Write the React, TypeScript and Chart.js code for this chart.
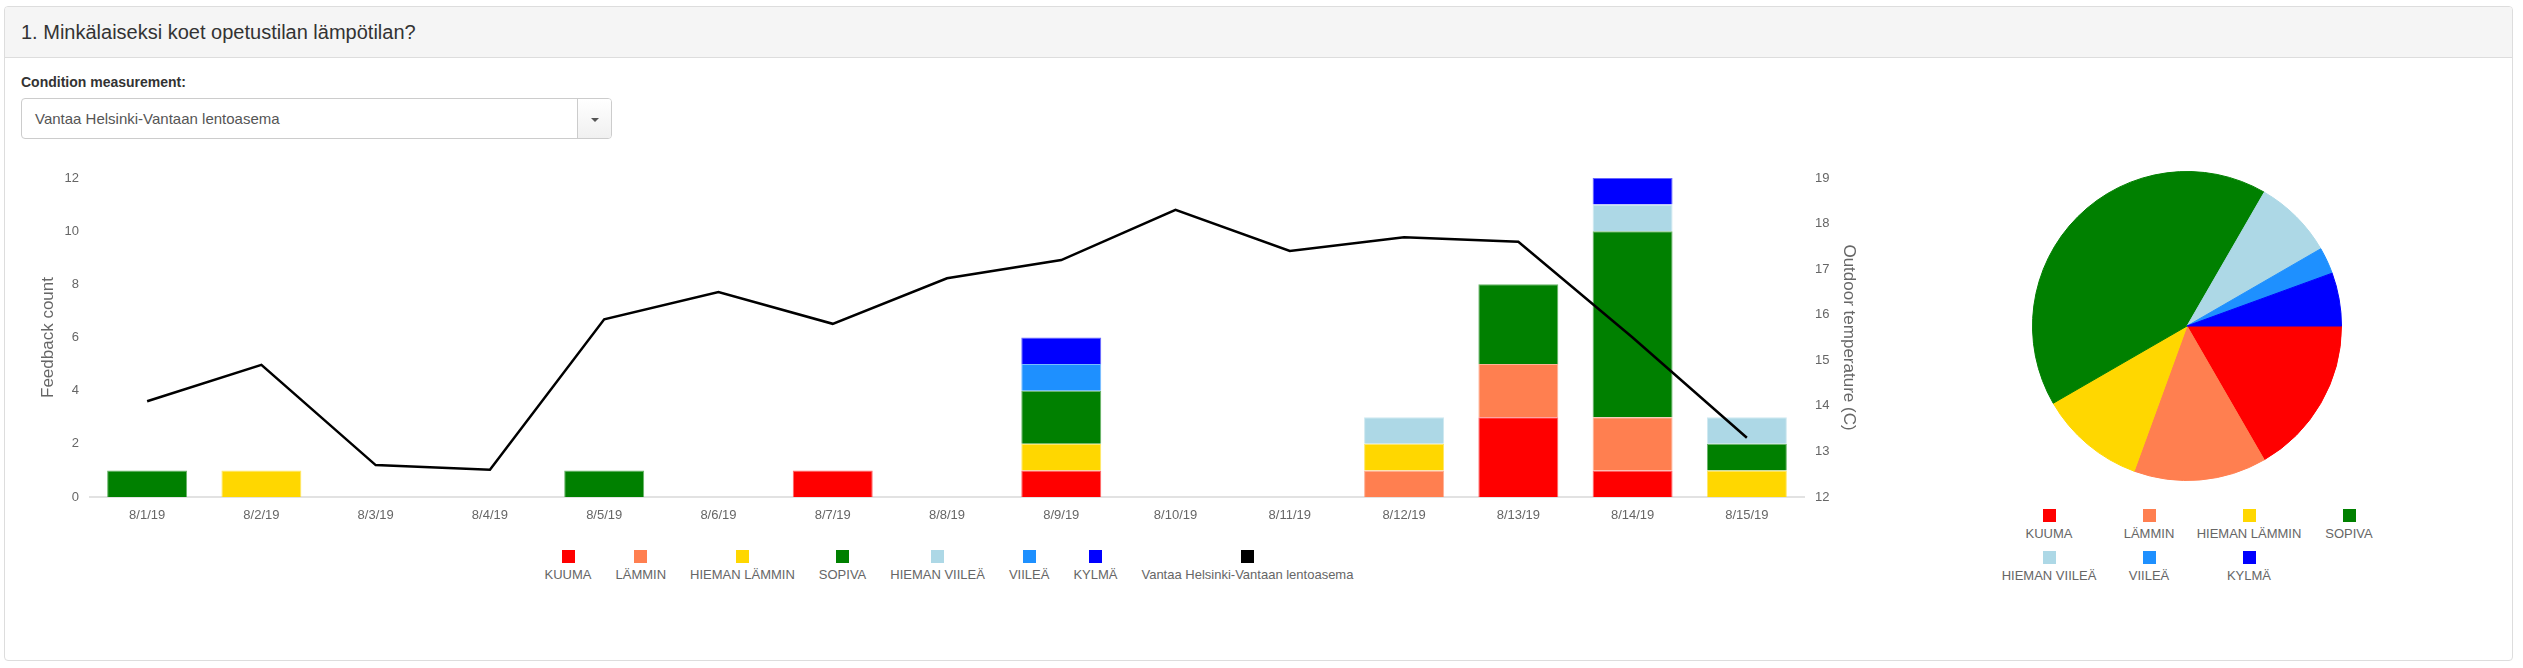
import React, { useEffect, useRef } from 'react';
import { Chart, registerables } from 'chart.js';

Chart.register(...registerables);

const FONT = "'Liberation Sans', Arial, Helvetica, sans-serif";

const categories = ['8/1/19', '8/2/19', '8/3/19', '8/4/19', '8/5/19', '8/6/19', '8/7/19', '8/8/19', '8/9/19', '8/10/19', '8/11/19', '8/12/19', '8/13/19', '8/14/19', '8/15/19'];

const feedbackNames = ['KUUMA', 'LÄMMIN', 'HIEMAN LÄMMIN', 'SOPIVA', 'HIEMAN VIILEÄ', 'VIILEÄ', 'KYLMÄ'];
const feedbackColors = ['#FF0000', '#FF7F50', '#FFD700', '#008000', '#ADD8E6', '#1E90FF', '#0000FF'];
const feedbackBorders = ['rgba(255,0,0,0.6)', 'rgba(255,127,80,0.6)', 'rgba(255,215,0,0.6)', 'rgba(0,128,0,0.6)', 'rgba(173,216,230,0.6)', 'rgba(30,144,255,0.6)', 'rgba(0,0,255,0.6)'];

const kuuma = [0, 0, 0, 0, 0, 0, 1, 0, 1, 0, 0, 0, 3, 1, 0];
const lammin = [0, 0, 0, 0, 0, 0, 0, 0, 0, 0, 0, 1, 2, 2, 0];
const hiemanLammin = [0, 1, 0, 0, 0, 0, 0, 0, 1, 0, 0, 1, 0, 0, 1];
const sopiva = [1, 0, 0, 0, 1, 0, 0, 0, 2, 0, 0, 0, 3, 7, 1];
const hiemanViilea = [0, 0, 0, 0, 0, 0, 0, 0, 0, 0, 0, 1, 0, 1, 1];
const viilea = [0, 0, 0, 0, 0, 0, 0, 0, 1, 0, 0, 0, 0, 0, 0];
const kylma = [0, 0, 0, 0, 0, 0, 0, 0, 1, 0, 0, 0, 0, 1, 0];

const stationName = 'Vantaa Helsinki-Vantaan lentoasema';
const temperature = [14.1, 14.9, 12.7, 12.6, 15.9, 16.5, 15.8, 16.8, 17.2, 18.3, 17.4, 17.7, 17.6, 15.5, 13.3];

const pieValues = [6, 5, 4, 15, 3, 1, 2];

const countTicks = { min: 0, max: 12, step: 2 };
const tempTicks = { min: 12, max: 19, step: 1 };

const seriesValues = [kuuma, lammin, hiemanLammin, sopiva, hiemanViilea, viilea, kylma];

export default function App() {
  const barRef = useRef<HTMLCanvasElement>(null);
  const pieRef = useRef<HTMLCanvasElement>(null);

  useEffect(() => {
    Chart.defaults.font.family = FONT;
    Chart.defaults.color = '#666';

    const barDatasets: any[] = seriesValues.map((vals, i) => ({
      type: 'bar',
      label: feedbackNames[i],
      data: vals,
      backgroundColor: feedbackColors[i],
      borderColor: feedbackBorders[i],
      borderWidth: 1,
      yAxisID: 'y',
      order: 1,
      barPercentage: 0.875,
      categoryPercentage: 0.8,
    }));

    const bar = new Chart(barRef.current!, {
      type: 'bar',
      data: {
        labels: categories,
        datasets: [
          {
            type: 'line',
            label: stationName,
            data: temperature,
            borderColor: '#000',
            backgroundColor: '#000',
            borderWidth: 2.5,
            pointRadius: 0,
            tension: 0,
            fill: false,
            yAxisID: 'y1',
            order: 0,
          } as any,
          ...barDatasets,
        ],
      },
      options: {
        responsive: false,
        animation: false,
        events: [],
        layout: { padding: { left: 34, right: 7, top: 18, bottom: 0 } },
        plugins: { legend: { display: false }, tooltip: { enabled: false } },
        scales: {
          x: {
            stacked: true,
            grid: { display: false },
            border: { display: true, color: '#e2e2e2', width: 2 },
            ticks: { font: { size: 13 }, color: '#666', maxRotation: 0, autoSkip: false },
            afterFit: (s: any) => { s.height = 40; },
          },
          y: {
            position: 'left',
            stacked: true,
            min: countTicks.min,
            max: countTicks.max,
            ticks: { stepSize: countTicks.step, font: { size: 13 }, color: '#666' },
            grid: { display: false },
            border: { display: false },
            title: { display: true, text: 'Feedback count', font: { size: 17 }, color: '#666' },
            afterFit: (s: any) => { s.width = 56; },
          },
          y1: {
            position: 'right',
            min: tempTicks.min,
            max: tempTicks.max,
            ticks: { stepSize: tempTicks.step, font: { size: 13 }, color: '#666' },
            grid: { display: false },
            border: { display: false },
            title: { display: true, text: 'Outdoor temperature (C)', font: { size: 17 }, color: '#666' },
            afterFit: (s: any) => { s.width = 59; },
          },
        },
      } as any,
    });

    const pie = new Chart(pieRef.current!, {
      type: 'pie',
      data: {
        labels: feedbackNames,
        datasets: [{ data: pieValues, backgroundColor: feedbackColors, borderColor: feedbackColors, borderWidth: 1 }],
      },
      options: {
        responsive: false,
        animation: false,
        events: [],
        rotation: 90,
        layout: { padding: 0 },
        plugins: { legend: { display: false }, tooltip: { enabled: false } },
      } as any,
    });

    return () => { bar.destroy(); pie.destroy(); };
  }, []);

  const legendItem = (name: string, color: string, key: number, extra: React.CSSProperties = {}) => (
    <div key={key} style={{ display: 'flex', flexDirection: 'column', alignItems: 'center', ...extra }}>
      <div style={{ width: 13, height: 13, background: color }} />
      <div style={{ marginTop: 4, fontSize: 13, lineHeight: '15px', color: '#666', whiteSpace: 'nowrap' }}>{name}</div>
    </div>
  );

  return (
    <div style={{ position: 'absolute', left: 0, top: 0, width: 2523, height: 668, background: '#fff', fontFamily: FONT }}>
      <div style={{ position: 'absolute', left: 4, top: 6, width: 2509, height: 655, border: '1px solid #ddd', borderRadius: 4, boxSizing: 'border-box', overflow: 'hidden' }}>
        <div style={{ position: 'absolute', left: 0, top: 0, right: 0, height: 51, background: '#f5f5f5', borderBottom: '1px solid #ddd', boxSizing: 'border-box' }} />
      </div>
      <div style={{ position: 'absolute', left: 21, top: 21, fontSize: 20, lineHeight: '22px', color: '#333', whiteSpace: 'nowrap' }}>
        1. Minkälaiseksi koet opetustilan lämpötilan?
      </div>
      <div style={{ position: 'absolute', left: 21, top: 74, fontSize: 14, fontWeight: 'bold', lineHeight: '16px', color: '#333', whiteSpace: 'nowrap' }}>
        Condition measurement:
      </div>
      <div style={{ position: 'absolute', left: 21, top: 98, width: 591, height: 41, border: '1px solid #ccc', borderRadius: 4, boxSizing: 'border-box', overflow: 'hidden', background: '#fff' }}>
        <div style={{ position: 'absolute', left: 13, top: 0, height: 39, lineHeight: '40px', fontSize: 15, color: '#555', whiteSpace: 'nowrap' }}>{stationName}</div>
        <div style={{ position: 'absolute', left: 555, top: 0, width: 35, height: 39, borderLeft: '1px solid #ccc', boxSizing: 'border-box', background: 'linear-gradient(#ffffff, #f0f0f0)' }}>
          <div style={{ position: 'absolute', left: 13, top: 19, width: 0, height: 0, borderLeft: '4px solid transparent', borderRight: '4px solid transparent', borderTop: '4px solid #555' }} />
        </div>
      </div>

      <canvas ref={barRef} width={1870} height={377} style={{ position: 'absolute', left: 0, top: 160, width: 1870, height: 377 }} />

      <div style={{ position: 'absolute', left: 0, top: 550, width: 1898, display: 'flex', justifyContent: 'center' }}>
        {feedbackNames.map((n, i) => legendItem(n, feedbackColors[i], i, { padding: '0 12px' }))}
        {legendItem(stationName, '#000', 99, { padding: '0 12px' })}
      </div>

      <canvas ref={pieRef} width={310} height={310} style={{ position: 'absolute', left: 2032, top: 171, width: 310, height: 310 }} />

      <div style={{ position: 'absolute', left: 1999, top: 509, width: 400, display: 'flex', flexWrap: 'wrap' }}>
        {feedbackNames.map((n, i) => legendItem(n, feedbackColors[i], i, { width: 100, height: 42 }))}
      </div>
    </div>
  );
}
